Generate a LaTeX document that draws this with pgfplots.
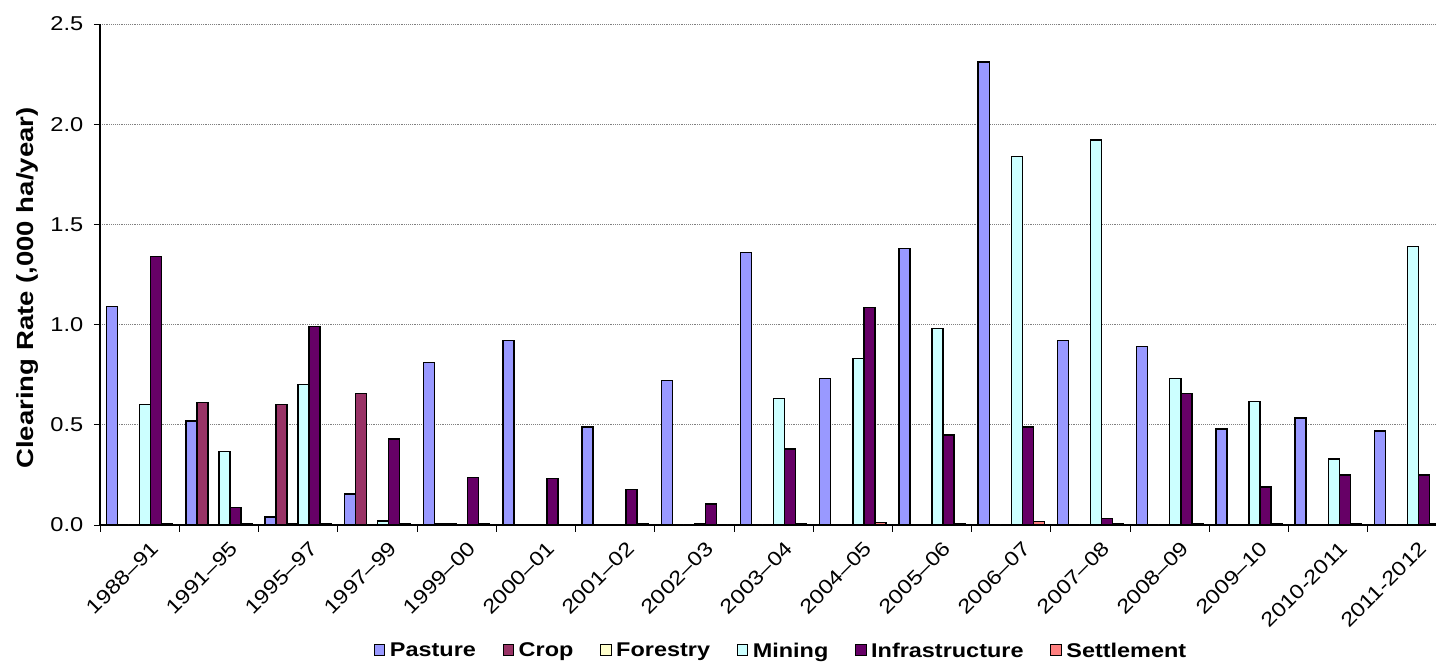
\documentclass[border=0pt]{standalone}
\usepackage{fontspec}
\setmainfont{Liberation Sans}[FakeStretch=1.18]
\usepackage{pgfplots}
\pgfplotsset{compat=1.18}

\definecolor{cPasture}{HTML}{9999FF}
\definecolor{cCrop}{HTML}{993366}
\definecolor{cForestry}{HTML}{FFFFCC}
\definecolor{cMining}{HTML}{CCFFFF}
\definecolor{cInfra}{HTML}{660066}
\definecolor{cSettle}{HTML}{FF8080}

\begin{document}
\begin{tikzpicture}
\begin{axis}[
    width=1002pt, height=375.75pt, scale only axis,
    xmin=-0.5, xmax=16.36, ymin=0, ymax=2.5,
    axis x line*=bottom, axis y line*=left,
    axis line style={line width=0.8pt},
    ybar=0pt, bar width=0.139,
    xtick={0,...,16},
    xticklabels={1988–91,1991–95,1995–97,1997–99,1999–00,2000–01,2001–02,2002–03,2003–04,2004–05,2005–06,2006–07,2007–08,2008–09,2009–10,2010-2011,2011-2012},
    minor xtick={-0.5,0.5,...,16.5},
    major x tick style={draw=none},
    minor tick length=5pt, major tick length=4.5pt,
    tick align=outside,
    tick style={black, line width=0.6pt},
    x tick label style={rotate=45, anchor=north east, font=\fontsize{15}{17}\selectfont, xshift=4pt, yshift=-7pt},
    ytick={0,0.5,...,2.5},
    y tick label style={font=\fontsize{15}{17}\selectfont, xshift=-4.5pt, /pgf/number format/.cd, fixed, fixed zerofill, precision=1, assume math mode=true},
    ymajorgrids,
    grid style={densely dotted, gray, line width=0.6pt},
    ylabel={Clearing Rate (,000 ha/year)},
    ylabel style={at={(axis description cs:-0.0546,0.473)}, anchor=center, font=\bfseries\fontsize{17.5}{19}\selectfont},
    legend columns=-1,
    legend style={at={(0.51,-0.2735)}, anchor=south, draw=none, inner sep=0pt,
        font=\bfseries\fontsize{14.9}{16}\selectfont,
        /tikz/every odd column/.append style={column sep=1.5pt},
        /tikz/every even column/.append style={column sep=18pt}},
    legend image code/.code={\draw[#1, draw=black, line width=0.6pt] (0pt,-3.5pt) rectangle (8pt,4.5pt);},
    every axis plot/.append style={draw=black, line width=1.1pt},
]
\coordinate (sw) at (rel axis cs:0,0);
\coordinate (ne) at (rel axis cs:1,1);

% Pasture
\addplot[fill=cPasture] coordinates {
 (0,1.09) (1,0.52) (2,0.04) (3,0.155) (4,0.81) (5,0.92) (6,0.49) (7,0.72) (8,1.36)
 (9,0.73) (10,1.38) (11,2.31) (12,0.92) (13,0.89) (14,0.48) (15,0.535) (16,0.47)};
% Crop
\addplot[fill=cCrop] coordinates {
 (0,0) (1,0.61) (2,0.60) (3,0.655) (4,0.005) (5,0) (6,0) (7,0) (8,0)
 (9,0) (10,0) (11,0) (12,0) (13,0) (14,0) (15,0) (16,0)};
% Forestry
\addplot[fill=cForestry] coordinates {
 (0,0) (1,0) (2,0.004) (3,0) (4,0.005) (5,0) (6,0) (7,0) (8,0)
 (9,0) (10,0) (11,0) (12,0) (13,0) (14,0) (15,0) (16,0)};
% Mining
\addplot[fill=cMining] coordinates {
 (0,0.60) (1,0.366) (2,0.70) (3,0.02) (4,0) (5,0) (6,0) (7,0.005) (8,0.63)
 (9,0.83) (10,0.98) (11,1.84) (12,1.92) (13,0.73) (14,0.615) (15,0.33) (16,1.39)};
% Infrastructure
\addplot[fill=cInfra] coordinates {
 (0,1.34) (1,0.088) (2,0.99) (3,0.43) (4,0.236) (5,0.231) (6,0.176) (7,0.105) (8,0.38)
 (9,1.085) (10,0.45) (11,0.49) (12,0.032) (13,0.655) (14,0.19) (15,0.25) (16,0.25)};
% Settlement
\addplot[fill=cSettle] coordinates {
 (0,0.004) (1,0.004) (2,0.006) (3,0.004) (4,0.004) (5,0) (6,0.004) (7,0) (8,0.004)
 (9,0.013) (10,0.004) (11,0.017) (12,0.006) (13,0.004) (14,0.008) (15,0.004) (16,0.004)};

\legend{Pasture, Crop, Forestry, Mining, Infrastructure, Settlement}
\end{axis}
\pgfresetboundingbox
\path[use as bounding box] ([shift={(-75pt,-102.75pt)}]sw) rectangle ([shift={(0pt,18pt)}]ne);
\end{tikzpicture}
\end{document}
